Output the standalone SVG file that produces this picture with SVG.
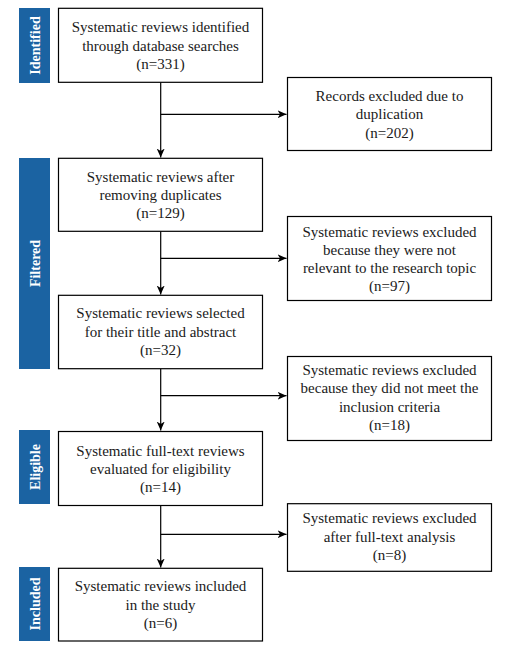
<svg xmlns="http://www.w3.org/2000/svg" width="505" height="659" viewBox="0 0 505 659">
<defs>
<marker id="ah" markerWidth="10" markerHeight="10" refX="9" refY="5" orient="auto" markerUnits="userSpaceOnUse">
<path d="M0,1 L9,5 L0,9 L2.5,5 Z" fill="#000"/>
</marker>
<style>
.box{fill:#fff;stroke:#000;stroke-width:1.2}
.bar{fill:#1b63a2}
.t{font-family:"Liberation Serif","Times New Roman",serif;font-size:15px;fill:#1a1a1a;text-anchor:middle}
.bt{font-family:"Liberation Serif","Times New Roman",serif;font-size:14px;font-weight:bold;fill:#fff;text-anchor:middle}
.c{fill:none;stroke:#000;stroke-width:1.2}
</style>
</defs>
<rect width="505" height="659" fill="#fff"/>
<g id="stage-identified"><rect class="bar" x="19" y="8" width="31" height="75"/><text class="bt" transform="translate(39.5,45.5) rotate(-90)">Identified</text></g>
<g id="stage-filtered"><rect class="bar" x="19" y="158" width="31" height="211"/><text class="bt" transform="translate(39.5,263.5) rotate(-90)">Filtered</text></g>
<g id="stage-eligible"><rect class="bar" x="19" y="430" width="31" height="74"/><text class="bt" transform="translate(39.5,467) rotate(-90)">Eligible</text></g>
<g id="stage-included"><rect class="bar" x="19" y="567" width="31" height="74"/><text class="bt" transform="translate(39.5,604) rotate(-90)">Included</text></g>

<g id="connectors">
<line class="c" x1="160.7" y1="82.3" x2="160.7" y2="157.5" marker-end="url(#ah)"/>
<line class="c" x1="160.7" y1="114.3" x2="286.5" y2="114.3" marker-end="url(#ah)"/>
<line class="c" x1="160.7" y1="231.3" x2="160.7" y2="294.5" marker-end="url(#ah)"/>
<line class="c" x1="160.7" y1="258.3" x2="286.5" y2="258.3" marker-end="url(#ah)"/>
<line class="c" x1="160.7" y1="368.7" x2="160.7" y2="430.5" marker-end="url(#ah)"/>
<line class="c" x1="160.7" y1="395.7" x2="286.5" y2="395.7" marker-end="url(#ah)"/>
<line class="c" x1="160.7" y1="505.3" x2="160.7" y2="567.5" marker-end="url(#ah)"/>
<line class="c" x1="160.7" y1="534.3" x2="286.5" y2="534.3" marker-end="url(#ah)"/>
</g>

<g id="n1"><rect class="box" x="58.5" y="8.3" width="204" height="74"/>
<text class="t" x="160.5" y="32">Systematic reviews identified</text>
<text class="t" x="160.5" y="50.5">through database searches</text>
<text class="t" x="160.5" y="69">(n=331)</text></g>

<g id="x1"><rect class="box" x="287.5" y="77.5" width="204" height="73"/>
<text class="t" x="389.5" y="100.5">Records excluded due to</text>
<text class="t" x="389.5" y="119">duplication</text>
<text class="t" x="389.5" y="137.5">(n=202)</text></g>

<g id="n2"><rect class="box" x="58.5" y="158.3" width="204" height="73"/>
<text class="t" x="160.5" y="181.5">Systematic reviews after</text>
<text class="t" x="160.5" y="199.5">removing duplicates</text>
<text class="t" x="160.5" y="218">(n=129)</text></g>

<g id="x2"><rect class="box" x="287.5" y="216.5" width="204" height="84"/>
<text class="t" x="389.5" y="236.5">Systematic reviews excluded</text>
<text class="t" x="389.5" y="254.5">because they were not</text>
<text class="t" x="389.5" y="273">relevant to the research topic</text>
<text class="t" x="389.5" y="291">(n=97)</text></g>

<g id="n3"><rect class="box" x="58.5" y="295.3" width="204" height="73.4"/>
<text class="t" x="160.5" y="318">Systematic reviews selected</text>
<text class="t" x="160.5" y="336.5">for their title and abstract</text>
<text class="t" x="160.5" y="355">(n=32)</text></g>

<g id="x3"><rect class="box" x="287.5" y="356.5" width="204" height="84"/>
<text class="t" x="389.5" y="375">Systematic reviews excluded</text>
<text class="t" x="389.5" y="393">because they did not meet the</text>
<text class="t" x="389.5" y="412">inclusion criteria</text>
<text class="t" x="389.5" y="430">(n=18)</text></g>

<g id="n4"><rect class="box" x="58.5" y="431.5" width="204" height="74"/>
<text class="t" x="160.5" y="455.5">Systematic full-text reviews</text>
<text class="t" x="160.5" y="473.5">evaluated for eligibility</text>
<text class="t" x="160.5" y="491.5">(n=14)</text></g>

<g id="x4"><rect class="box" x="287.5" y="503.7" width="204" height="67.6"/>
<text class="t" x="389.5" y="523">Systematic reviews excluded</text>
<text class="t" x="389.5" y="542">after full-text analysis</text>
<text class="t" x="389.5" y="560">(n=8)</text></g>

<g id="n5"><rect class="box" x="58.5" y="568.3" width="204" height="72.7"/>
<text class="t" x="160.5" y="591">Systematic reviews included</text>
<text class="t" x="160.5" y="609.5">in the study</text>
<text class="t" x="160.5" y="628">(n=6)</text></g>
</svg>
